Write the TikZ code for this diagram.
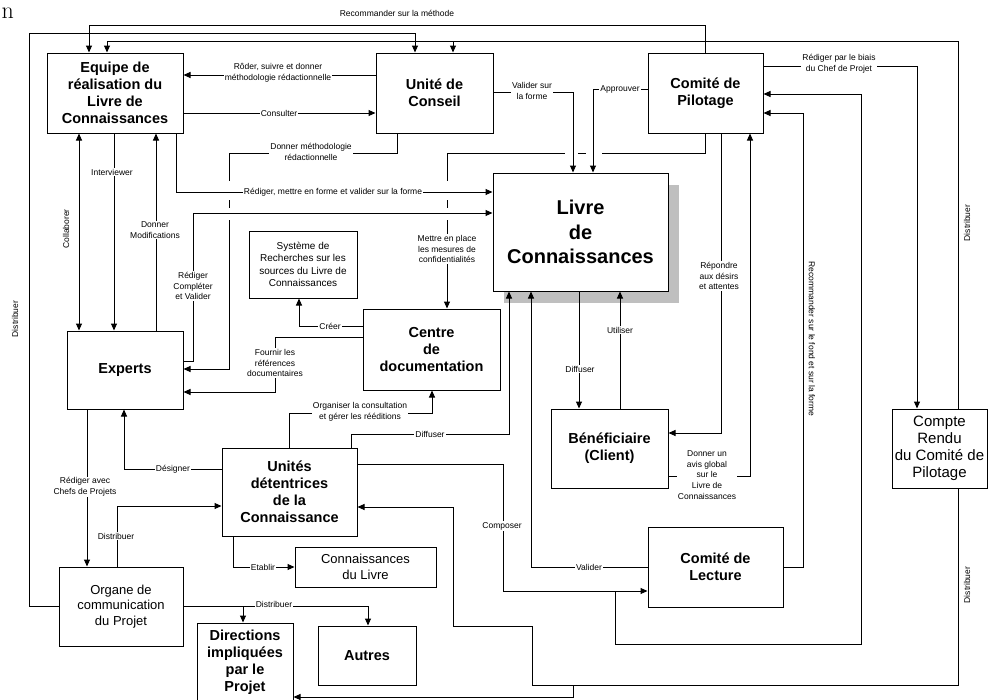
\documentclass[tikz,border=0pt]{standalone}
\usepackage{fontspec}
\newfontfamily\arial{Liberation Sans}
\usetikzlibrary{arrows.meta}
\tikzset{
  box/.style={draw, line width=1pt, fill=white, align=center, inner sep=2pt,
    font=\arial\bfseries\fontsize{14.5}{17}\selectfont},
  thinbox/.style={box, font=\arial\fontsize{13}{15.5}\selectfont},
  lbl/.style={fill=white, inner sep=1pt, align=center, font=\arial\fontsize{8.5}{10.8}\selectfont},
  link/.style={line width=1pt},
  arr/.style={link, -{Triangle[length=7pt,width=6pt]}},
  dblarr/.style={link, {Triangle[length=7pt,width=6pt]}-{Triangle[length=7pt,width=6pt]}},
}

\begin{document}
\begin{tikzpicture}[x=1pt, y=-1pt]
  \useasboundingbox (0,0) rectangle (988,699);

  \node[anchor=west, inner sep=0pt, font=\fontsize{24}{24}\selectfont] (bout) at (1.5,13) {n};

  % boxes
  \fill[black!25] (504,185) rectangle (679,303);
  \node[box, minimum width=175pt, minimum height=118pt, font=\arial\bfseries\fontsize{20}{24.5}\selectfont] (livre) at (580.5,232) {Livre\\de\\Connaissances};
  \node[box, minimum width=136pt, minimum height=80pt] (equipe) at (115,93) {Equipe de\\réalisation du\\Livre de\\Connaissances};
  \node[box, minimum width=117pt, minimum height=80pt] (conseil) at (434.5,93) {Unité de\\Conseil};
  \node[box, minimum width=115pt, minimum height=80pt] (pilotage) at (705.5,93) {Comité de\\Pilotage};
  \node[thinbox, minimum width=108pt, minimum height=67pt, font=\arial\fontsize{10}{12.4}\selectfont] (systeme) at (303,264.5) {Système de\\Recherches sur les\\sources du Livre de\\Connaissances};
  \node[box, minimum width=137pt, minimum height=81pt] (centre) at (431.5,349.5) {Centre\\de\\documentation};
  \node[box, minimum width=116pt, minimum height=78pt] (experts) at (125,370) {Experts};
  \node[box, minimum width=135pt, minimum height=88pt] (unites) at (289.5,492) {Unités\\détentrices\\de la\\Connaissance};
  \node[box, minimum width=117pt, minimum height=79pt] (benef) at (609.5,448.5) {Bénéficiaire\\(Client)};
  \node[thinbox, minimum width=95pt, minimum height=79pt, font=\arial\fontsize{15}{17}\selectfont] (compte) at (939.5,448.5) {Compte\\Rendu\\du Comité de\\Pilotage};
  \node[box, minimum width=135pt, minimum height=80pt] (lecture) at (715.5,567) {Comité de\\Lecture};
  \node[thinbox, minimum width=141pt, minimum height=40pt] (livrecon) at (365.5,567) {Connaissances\\du Livre};
  \node[thinbox, minimum width=124pt, minimum height=79pt] (organe) at (121,606.5) {Organe de\\communication\\du Projet};
  \node[box, minimum width=96pt, minimum height=78pt] (directions) at (245,662) {Directions\\impliquées\\par le\\Projet};
  \node[box, minimum width=98pt, minimum height=59pt] (autres) at (367,655.5) {Autres};

  % lines that hop over others
  \draw[arr] (conseil.south -| 397,0) |- (229,153) -- (229,369) -- (experts.east |- 0,369);
  \draw[arr] (pilotage.south) |- (447,153) -- (centre.north -| 447,0);
  \fill[white] (224,181) rectangle (234,200);
  \fill[white] (224,208) rectangle (234,220);
  \fill[white] (442,181) rectangle (452,200);
  \fill[white] (442,208) rectangle (452,220);
  \fill[white] (565,149) rectangle (578,157);
  \fill[white] (586,149) rectangle (602,157);

  % connectors
  \draw[arr] (pilotage.north) |- (89,25) -- (equipe.north -| 89,0);
  \draw[arr] (organe.west |- 0,606) -| (29,33) -| (conseil.north -| 415,0);
  \draw[arr] (compte.north -| 958,0) |- (107,41) -- (equipe.north -| 107,0);
  \draw[arr] (453,41) -- (conseil.north -| 453,0);
  \draw[arr] (conseil.west |- 0,75) -- (equipe.east |- 0,75);
  \draw[arr] (equipe.east |- 0,113) -- (conseil.west |- 0,113);
  \draw[arr] (equipe.south -| 176,0) |- (livre.west |- 0,192);
  \draw[arr] (experts.east |- 0,361) -| (193,213) -- (livre.west |- 0,213);
  \draw[arr] (equipe.south -| 114,0) -- (experts.north -| 114,0);
  \draw[dblarr] (equipe.south -| 79,0) -- (experts.north -| 79,0);
  \draw[arr] (experts.north -| 156,0) -- (equipe.south -| 156,0);
  \draw[arr] (conseil.east |- 0,92) -| (livre.north -| 573,0);
  \draw[arr] (pilotage.west |- 0,89) -| (livre.north -| 593,0);
  \draw[arr] (pilotage.east |- 0,66) -| (compte.north -| 917,0);
  \draw[arr] (centre.west |- 0,326) -| (systeme.south -| 299,0);
  \draw[arr] (centre.west |- 0,337) -| (275,392) -- (experts.east |- 0,392);
  \draw[arr] (unites.west |- 0,469) -| (experts.south -| 124,0);
  \draw[arr] (experts.south -| 87,0) -- (organe.north -| 87,0);
  \draw[arr] (organe.north -| 117,0) |- (unites.west |- 0,506);
  \draw[arr] (unites.north -| 289,0) |- (432,413) -- (centre.south -| 432,0);
  \draw[arr] (unites.north -| 351,0) |- (509,434) -- (livre.south -| 509,0);
  \draw[arr] (unites.east |- 0,464) -| (503,591) -- (lecture.west |- 0,591);
  \draw[arr] (615,591) |- (861,644) |- (pilotage.east |- 0,94);
  \draw[arr] (lecture.west |- 0,567) -| (livre.south -| 531,0);
  \draw[arr] (livre.south -| 579,0) -- (benef.north -| 579,0);
  \draw[arr] (benef.north -| 620,0) -- (livre.south -| 620,0);
  \draw[arr] (pilotage.south -| 721,0) |- (benef.east |- 0,433);
  \draw[arr] (benef.east |- 0,476) -| (pilotage.south -| 750,0);
  \draw[arr] (lecture.east |- 0,567) -| (803,113) -- (pilotage.east |- 0,113);
  \draw[arr] (compte.south -| 958,0) |- (532,685) |- (453,626) |- (unites.east |- 0,507);
  \draw[arr] (573,685) |- (directions.east |- 0,697);
  \draw[arr] (organe.east |- 0,606) -| (autres.north -| 368,0);
  \draw[arr] (243,606) -- (directions.north -| 243,0);
  \draw[arr] (unites.south -| 233,0) |- (livrecon.west |- 0,567);

  % labels
  \node[lbl] (lmethode) at (397,13) {Recommander sur la méthode};
  \node[lbl, rotate=90] (ldistg) at (15,319) {Distribuer};
  \node[lbl, rotate=90] (ldistd) at (967,223) {Distribuer};
  \node[lbl, rotate=90] (ldistb) at (967,585) {Distribuer};
  \node[lbl, rotate=90] (lcollab) at (66,229) {Collaborer};
  \node[lbl, rotate=-90] (lfond) at (812,339) {Recommander sur le fond et sur la forme};
  \node[lbl] (lroder) at (278,73) {Rôder, suivre et donner\\méthodologie rédactionnelle};
  \node[lbl] (lconsult) at (279,113) {Consulter};
  \node[lbl] (ldonner) at (311,152) {Donner méthodologie\\rédactionnelle};
  \node[lbl] (lredige) at (333,192) {Rédiger, mettre en forme et valider sur la forme};
  \node[lbl] (linterv) at (112,172) {Interviewer};
  \node[lbl] (lmodif) at (155,230) {Donner\\Modifications};
  \node[lbl] (lcomplet) at (193,286) {Rédiger\\Compléter\\et Valider};
  \node[lbl] (lforme) at (532,91) {Valider sur\\la forme};
  \node[lbl] (lapprouv) at (620,89) {Approuver};
  \node[lbl] (lbiais) at (839,64) {Rédiger par le biais\\du Chef de Projet};
  \node[lbl] (lmesure) at (447,249) {Mettre en place\\les mesures de\\confidentialités};
  \node[lbl] (lcreer) at (330,326) {Créer};
  \node[lbl] (lfournir) at (275,363) {Fournir les\\références\\documentaires};
  \node[lbl] (lrepond) at (719,276) {Répondre\\aux désirs\\et attentes};
  \node[lbl] (lutil) at (620,330) {Utiliser};
  \node[lbl] (ldiffb) at (580,369) {Diffuser};
  \node[lbl] (lorgan) at (360,412) {Organiser la consultation\\et gérer les rééditions};
  \node[lbl] (ldiffu) at (430,434) {Diffuser};
  \node[lbl] (ldesign) at (173,469) {Désigner};
  \node[lbl] (lavis) at (707,475) {Donner un\\avis global\\sur le\\Livre de\\Connaissances};
  \node[lbl] (lchefs) at (85,487) {Rédiger avec\\Chefs de Projets};
  \node[lbl] (lcompos) at (502,526) {Composer};
  \node[lbl] (ldistu) at (116,536) {Distribuer};
  \node[lbl] (lvalider) at (589,567) {Valider};
  \node[lbl] (letablir) at (263,567) {Etablir};
  \node[lbl] (ldisto) at (274,604) {Distribuer};
\end{tikzpicture}
\end{document}
